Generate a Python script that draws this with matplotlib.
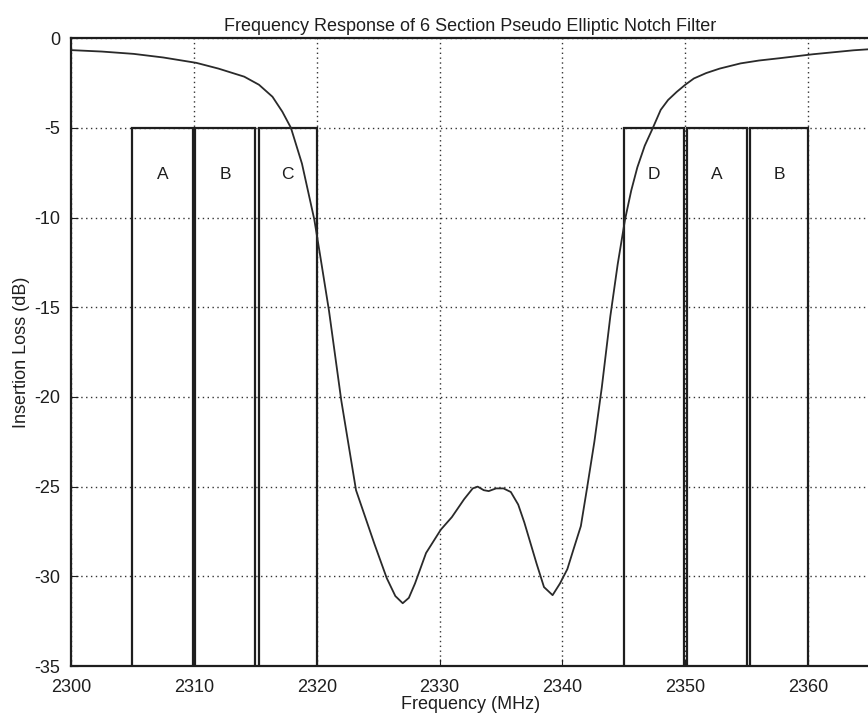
import matplotlib
matplotlib.use("Agg")
from matplotlib import pyplot as plt

plt.rcParams['font.family'] = ['Liberation Sans', 'DejaVu Sans']
plt.rcParams['axes.unicode_minus'] = False

# measured response of the notch filter
freq = [2300.0, 2302.5, 2305.1, 2307.5, 2310.2, 2312.0, 2314.1, 2315.3, 2316.4,
        2317.2, 2317.9, 2318.8, 2319.8, 2320.3, 2321.0, 2322.0, 2323.2, 2323.7,
        2324.7, 2325.7, 2326.4, 2327.0, 2327.5, 2328.0, 2328.9, 2330.1, 2331.0,
        2332.0, 2332.7, 2333.1, 2333.6, 2334.0, 2334.6, 2335.2, 2335.8, 2336.4,
        2336.9, 2337.9, 2338.5, 2339.2, 2339.8, 2340.4, 2340.9, 2341.5, 2342.0,
        2342.6, 2343.2, 2343.9, 2344.5, 2345.1, 2345.6, 2346.1, 2346.7, 2347.3,
        2348.0, 2348.6, 2349.3, 2350.0, 2350.7, 2351.7, 2352.8, 2354.5, 2356.0,
        2357.7, 2360.4, 2363.7, 2365.0]
loss = [-0.67, -0.75, -0.88, -1.08, -1.38, -1.7, -2.15, -2.6, -3.27,
        -4.1, -5.0, -7.0, -10.1, -12.2, -15.2, -20.2, -25.2, -26.2,
        -28.2, -30.1, -31.1, -31.5, -31.2, -30.4, -28.7, -27.4, -26.7,
        -25.7, -25.1, -25.0, -25.2, -25.25, -25.1, -25.1, -25.3, -26.0,
        -27.0, -29.3, -30.6, -31.05, -30.4, -29.6, -28.5, -27.2, -25.1,
        -22.5, -19.5, -15.5, -12.6, -10.1, -8.5, -7.2, -6.0, -5.1,
        -4.0, -3.45, -3.0, -2.6, -2.25, -1.95, -1.7, -1.41, -1.25,
        -1.12, -0.9, -0.68, -0.62]

# channel bands (start, stop, label)
band_lo = [2305.0, 2310.1, 2315.3, 2345.0, 2350.1, 2355.3]
band_hi = [2309.9, 2315.0, 2320.0, 2349.9, 2355.0, 2360.0]
band_name = ['A', 'B', 'C', 'D', 'A', 'B']
band_top = -5

ink = '#1e1e1e'

fig = plt.figure(figsize=(8.68, 7.16), dpi=100)
ax = fig.add_axes([0.0818, 0.0698, 0.92, 0.877])

for lo, hi, name in zip(band_lo, band_hi, band_name):
    ax.plot([lo, lo, hi, hi], [-35, band_top, band_top, -35], color=ink, lw=1.6,
            solid_joinstyle='miter')
    ax.text((lo + hi) / 2, -7.6, name, ha='center', va='center', fontsize=12.5, color=ink)

ax.plot(freq, loss, color='#2a2a2a', lw=1.3)

ax.set_xlim(2300, 2365)
ax.set_ylim(-35, 0)
ax.set_xticks(range(2300, 2361, 10))
ax.set_yticks(range(-35, 1, 5))
ax.grid(True, linestyle=(0, (1, 2.5)), color='#333333', lw=1.0)
ax.tick_params(direction='in', length=5, labelsize=13, colors=ink)
ax.tick_params(axis='x', pad=9)
ax.tick_params(axis='y', pad=8)
for s in ax.spines.values():
    s.set_linewidth(1.6)
    s.set_color(ink)

ax.set_title('Frequency Response of 6 Section Pseudo Elliptic Notch Filter',
             fontsize=13, color=ink, pad=5)
ax.set_xlabel('Frequency (MHz)', fontsize=13, color=ink, labelpad=0)
ax.set_ylabel('Insertion Loss (dB)', fontsize=13, color=ink, labelpad=3)

fig.savefig('out.png', dpi=100)
